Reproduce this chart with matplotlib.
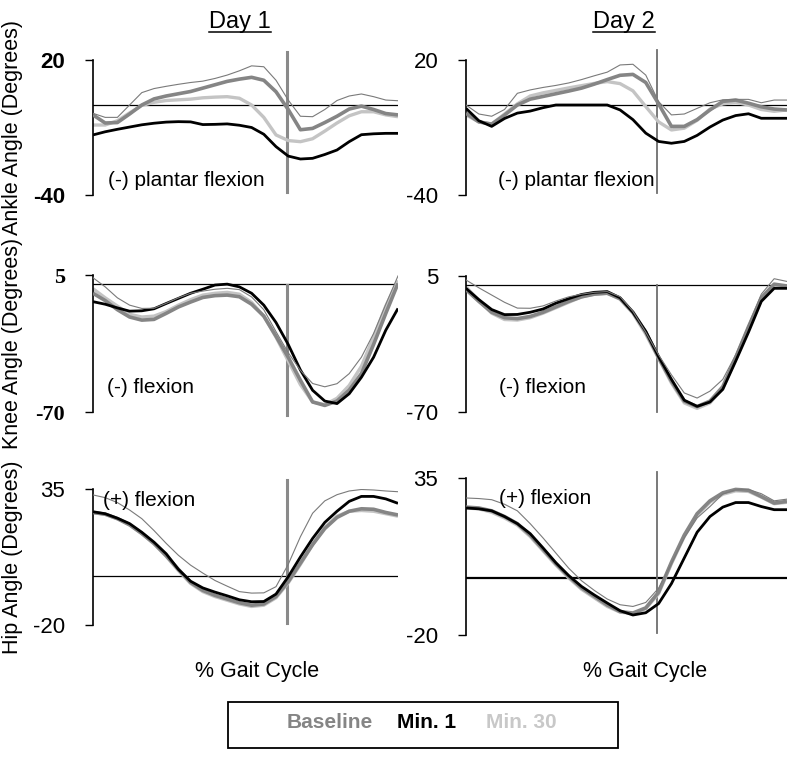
import matplotlib
matplotlib.use("Agg")
import matplotlib.pyplot as plt
from matplotlib.patches import Rectangle
from matplotlib.lines import Line2D

plt.rcParams['font.family'] = ['Liberation Sans', 'DejaVu Sans']

# ---------------- data ----------------
gait_pct = [0, 4, 8, 12, 16, 20, 24, 28, 32, 36, 40, 44, 48, 52, 56, 60, 64, 68, 72, 76, 80, 84, 88, 92, 96, 100]
toe_off = [63.5, 59.5]  # Day 1, Day 2 (% gait cycle)

# Ankle, Day 1
ankle_d1_ref = [-3.7, -5.5, -5.5, 0, 5.5, 7.3, 8.3, 9.2, 10, 10.6, 11.8, 13.3, 15.2, 17.4, 17.0, 11, 2.2, -5, -5.2, -2, 2, 4, 4.9, 3.7, 2.2, 1.9]
ankle_d1_baseline = [-4.4, -8, -7.8, -4, 0, 2.7, 4, 5, 6, 7.5, 9, 10.5, 11.5, 12.3, 11, 5.9, -2, -11, -10.4, -7.8, -5, -1.8, -0.5, -2, -3.8, -4.4]
ankle_d1_min1 = [-13.3, -11.9, -10.8, -9.8, -8.8, -8.1, -7.6, -7.4, -7.5, -8.7, -8.6, -8.4, -9, -10, -13, -18.5, -22.7, -24, -23.7, -22, -20, -16.3, -13.2, -12.8, -12.6, -12.6]
ankle_d1_min30 = [-8.9, -8.9, -7, -3.5, -0.2, 1.2, 2, 2.3, 2.6, 3.2, 3.5, 3.7, 3, 0, -5.5, -13.3, -15.8, -16.3, -15, -11.6, -8, -4.8, -3, -3, -4.4, -5.2]

# Ankle, Day 2
ankle_d2_ref = [0, -4, -5, -2, 5.2, 6.7, 7.8, 8.7, 9.8, 11.3, 13, 14.6, 17.8, 18.1, 13.3, 1.5, -4.4, -4, -1.5, 1, 2.3, 2.5, 2.5, 1, 2.2, 2.2]
ankle_d2_baseline = [-3.7, -7.5, -8.5, -4.5, 0, 2.6, 3.8, 5, 6.2, 7.5, 9.3, 11.3, 13.2, 13.6, 10, 0.5, -9.5, -9.5, -6.5, -2.2, 1.6, 2.2, 0.8, -0.8, -1.8, -2.2]
ankle_d2_min1 = [-1.5, -7, -9.5, -6, -3.6, -2.7, -1.2, 0, 0, 0, 0, 0, -2.2, -6.5, -12.5, -16.2, -17, -16.2, -13.5, -9.8, -6.7, -4.7, -3.9, -5.9, -5.9, -5.9]
ankle_d2_min30 = [-4.4, -7.5, -8.5, -4, 0.5, 4, 5.4, 6.5, 7.6, 8.6, 9.6, 10.4, 9.5, 6.3, -0.7, -7.5, -11.1, -10.3, -6.8, -1.8, 0.5, 1.2, 0, -2, -2.8, -2.2]

# Knee, Day 1
knee_d1_ref = [3.5, -1.5, -7.5, -11.5, -13.3, -13.2, -10.5, -7.5, -5, -3.8, -2.8, -2.3, -3, -7, -14, -26, -37.5, -47.2, -54.4, -56.2, -54.5, -49, -40, -27, -11, 4.5]
knee_d1_baseline = [-5, -9, -14, -18, -19.7, -19.3, -16, -12.5, -9.8, -7.3, -6.3, -6, -6.9, -11, -17.5, -28.5, -40, -52.6, -64.5, -66.4, -64, -58, -49, -33, -16, 0.4]
knee_d1_min1 = [-9.6, -11, -13, -14.8, -14.6, -13.5, -10.6, -7.8, -5, -2.8, -0.5, 0, -1.5, -5, -11.5, -21, -33, -47, -58.1, -64, -65.4, -60, -51, -40, -25.2, -13.3]
knee_d1_min30 = [-2.5, -7.5, -12, -16.5, -18, -17.5, -15, -11.5, -8.5, -6, -5, -4.5, -5.5, -10, -17.5, -29, -42, -55, -64.5, -66, -62.5, -55.5, -45, -29, -12, 2]

# Knee, Day 2
knee_d2_ref = [2.8, -1.5, -5.5, -9.5, -12.7, -12.8, -11.5, -8.8, -6.5, -5, -4, -3.6, -6.4, -14.5, -26, -38.5, -49.5, -59.5, -62.3, -58.5, -52, -38.5, -22, -5, 3.5, 2]
knee_d2_baseline = [-2.5, -9, -15, -18, -18.5, -17.3, -15, -12, -9, -6.5, -5, -4.5, -7.5, -15, -26, -40, -53, -64, -67, -64, -56, -40, -23, -7, 0.5, -0.5]
knee_d2_min1 = [-1.8, -8, -13.5, -16.3, -16.2, -15, -13.2, -10, -7.5, -5.2, -4, -3.6, -7, -15, -25.5, -39.5, -52, -63.5, -66.9, -64.5, -57.5, -42, -26, -9, -1.8, -1.8]
knee_d2_min30 = [-1, -8.5, -15.5, -19, -19.3, -18, -15.5, -12.5, -9.5, -6.5, -5, -4.5, -7.8, -15.5, -27, -40.5, -54, -65, -68, -65, -57, -41, -24, -8, 0, -1]

# Hip, Day 1
hip_d1_ref = [32.6, 31.5, 29.5, 26.5, 23, 18.2, 13, 8.2, 4.2, 1, -2, -4.3, -6.5, -7.1, -7, -4.5, 4.5, 15.7, 25.2, 30.2, 32.7, 34.2, 34.8, 34.6, 34.2, 33.9]
hip_d1_baseline = [25.5, 24.8, 23, 20.5, 17, 13, 8, 2.5, -2.8, -6, -8, -9.5, -11, -12, -11.5, -8.5, -2.5, 5, 12.5, 19, 23.5, 26, 27, 26.8, 25.5, 24.5]
hip_d1_min1 = [25.8, 25, 23.2, 21, 17.5, 13.5, 8.8, 2.5, -2.3, -5, -6.7, -8.2, -9.8, -10.6, -10.5, -7.5, -0.5, 7.5, 15, 21.5, 26, 30, 32, 32, 31, 29.2]
hip_d1_min30 = [25.5, 24.8, 23, 20.5, 17, 12.8, 7.8, 2, -3.2, -6.5, -8.5, -10, -11.5, -12.5, -12, -9, -3, 4.5, 12.5, 19.5, 24, 26, 26.3, 26, 25, 24]

# Hip, Day 2
hip_d2_ref = [28, 27.8, 27.4, 25.8, 23.5, 19, 14, 8.7, 3.4, -1, -4.4, -7.4, -9.4, -10, -8.6, -3.6, 5, 14, 21, 25, 29.4, 30.9, 31, 29.5, 27, 27.6]
hip_d2_baseline = [24.8, 24.5, 23.5, 21.5, 19, 15, 10, 5, 0.5, -3.5, -6.5, -9.5, -11.8, -12.3, -10.5, -5, 5.5, 15, 22.5, 27, 29.8, 31, 30.7, 28.5, 26.2, 26.8]
hip_d2_min1 = [24.5, 24.2, 23.5, 21.5, 19, 15.5, 10.5, 5.3, 0.8, -3, -6, -8.8, -11.5, -13, -12.2, -9, -2, 7, 16, 21.5, 24.8, 26.4, 26.4, 25, 23.9, 23.9]
hip_d2_min30 = [24.5, 24.2, 23, 21, 18.5, 14.5, 9.5, 4.5, 0, -4, -7, -10, -12, -12.5, -10.8, -5.5, 5, 14.5, 22, 26.5, 29.3, 30.5, 30.3, 28.3, 26, 26.5]

joints = ["Ankle", "Knee", "Hip"]
y_ranges = {"Ankle": (-40, 20), "Knee": (-70, 5), "Hip": (-20, 35)}
notes = {"Ankle": "(-) plantar flexion", "Knee": "(-) flexion", "Hip": "(+) flexion"}
days = ["Day 1", "Day 2"]
legend_labels = ["Baseline", "Min. 1", "Min. 30"]

series = {
    ("Ankle", 0): (ankle_d1_ref, ankle_d1_baseline, ankle_d1_min1, ankle_d1_min30),
    ("Ankle", 1): (ankle_d2_ref, ankle_d2_baseline, ankle_d2_min1, ankle_d2_min30),
    ("Knee", 0): (knee_d1_ref, knee_d1_baseline, knee_d1_min1, knee_d1_min30),
    ("Knee", 1): (knee_d2_ref, knee_d2_baseline, knee_d2_min1, knee_d2_min30),
    ("Hip", 0): (hip_d1_ref, hip_d1_baseline, hip_d1_min1, hip_d1_min30),
    ("Hip", 1): (hip_d2_ref, hip_d2_baseline, hip_d2_min1, hip_d2_min30),
}

# ---------------- layout (pixels) ----------------
W, H = 800, 758
fig = plt.figure(figsize=(W / 100, H / 100), dpi=100)
fig.patch.set_facecolor("white")

col_x = [(93, 398), (466, 787)]
row_y = {
    ("Ankle", 0): (60, 195), ("Ankle", 1): (60, 195),
    ("Knee", 0): (275, 412), ("Knee", 1): (276, 412),
    ("Hip", 0): (489, 625), ("Hip", 1): (478, 635),
}
vline_span = {
    ("Ankle", 0): (52, 192), ("Ankle", 1): (50, 193),
    ("Knee", 0): (285, 415), ("Knee", 1): (285, 412),
    ("Hip", 0): (480, 623), ("Hip", 1): (472, 633),
}
note_pos = {
    ("Ankle", 0): (108, 180), ("Ankle", 1): (498, 180),
    ("Knee", 0): (107, 387), ("Knee", 1): (499, 387),
    ("Hip", 0): (103, 500), ("Hip", 1): (499, 499),
}
tick_font = {
    ("Ankle", 0): dict(fontweight="bold"),
    ("Knee", 0): dict(family=["Liberation Serif"], fontweight="bold"),
}

C_BASE = "#858585"
C_MIN1 = "#000000"
C_MIN30 = "#c4c4c4"
C_REF = "#7a7a7a"

for j in joints:
    for d in range(2):
        x0, x1 = col_x[d]
        yt, yb = row_y[(j, d)]
        ax = fig.add_axes([x0 / W, 1 - yb / H, (x1 - x0) / W, (yb - yt) / H])
        ax.set_facecolor("none")
        lo, hi = y_ranges[j]
        ax.set_xlim(0, 100)
        ax.set_ylim(lo, hi)
        for s in ("top", "right", "bottom"):
            ax.spines[s].set_visible(False)
        ax.spines["left"].set_linewidth(1.2)
        ax.set_xticks([])
        ax.set_yticks([lo, hi])
        ax.set_yticklabels([str(lo), str(hi)])
        ax.tick_params(axis="y", direction="out", length=6, width=1.0, pad=14,
                       labelsize=16)
        for lab in ax.get_yticklabels():
            fk = tick_font.get((j, d), {})
            if "family" in fk:
                lab.set_family(fk["family"])
            if "fontweight" in fk:
                lab.set_fontweight(fk["fontweight"])

        ref, base, m1, m30 = series[(j, d)]
        ax.axhline(0, color="black", lw=1.6 if (j == "Hip" and d == 1) else 0.9, zorder=1)
        vt, vb = vline_span[(j, d)]
        ax.axvline(toe_off[d], ymin=(yb - vb) / (yb - yt), ymax=(yb - vt) / (yb - yt),
                   color="#8a8a8a" if d == 0 else "#6e6e6e",
                   lw=2.2 if d == 0 else 1.3, clip_on=False, zorder=1.5)
        ax.plot(gait_pct, m30, color=C_MIN30, lw=2.4, zorder=2, solid_capstyle="butt")
        ax.plot(gait_pct, base, color=C_BASE, lw=2.6, zorder=3, solid_capstyle="butt")
        ax.plot(gait_pct, m1, color=C_MIN1, lw=2.0, zorder=4, solid_capstyle="butt")
        ax.plot(gait_pct, ref, color=C_REF, lw=0.8, zorder=5)

        nx, ny = note_pos[(j, d)]
        fig.text(nx / W, 1 - ny / H, notes[j], fontsize=15, ha="left", va="center")

        if d == 0:
            fig.text(13 / W, 1 - ((yt + yb) / 2) / H, f"{j} Angle (Degrees)",
                     rotation=90, fontsize=15.5, ha="center", va="center")

# column titles (underlined)
title_x = [240, 624]
titles = []
for d in range(2):
    t = fig.text(title_x[d] / W, 1 - 22 / H, days[d], fontsize=17, ha="center", va="center")
    titles.append(t)

# x labels
for cx in (257, 645):
    fig.text(cx / W, 1 - 671 / H, "% Gait Cycle", fontsize=15.5, ha="center", va="center")

# legend box
fig.patches.append(Rectangle((228 / W, 1 - 748 / H), (618 - 228) / W, (748 - 702) / H,
                             transform=fig.transFigure, fill=False, edgecolor="black",
                             lw=1.3))
leg_cols = [C_BASE, C_MIN1, "#c8c8c8"]
leg_x = [330, 427, 521]
for lab, c, lx in zip(legend_labels, leg_cols, leg_x):
    fig.text(lx / W, 1 - 723 / H, lab, fontsize=15, fontweight="bold", color=c,
             ha="center", va="center")

# underline the titles
fig.canvas.draw()
r = fig.canvas.get_renderer()
for t in titles:
    bb = t.get_window_extent(renderer=r)
    y = bb.y0 + 1
    fig.lines.append(Line2D([bb.x0 / W, bb.x1 / W], [y / H, y / H],
                            transform=fig.transFigure, color="black", lw=1.1))

fig.savefig("out.png", dpi=100, facecolor="white")
